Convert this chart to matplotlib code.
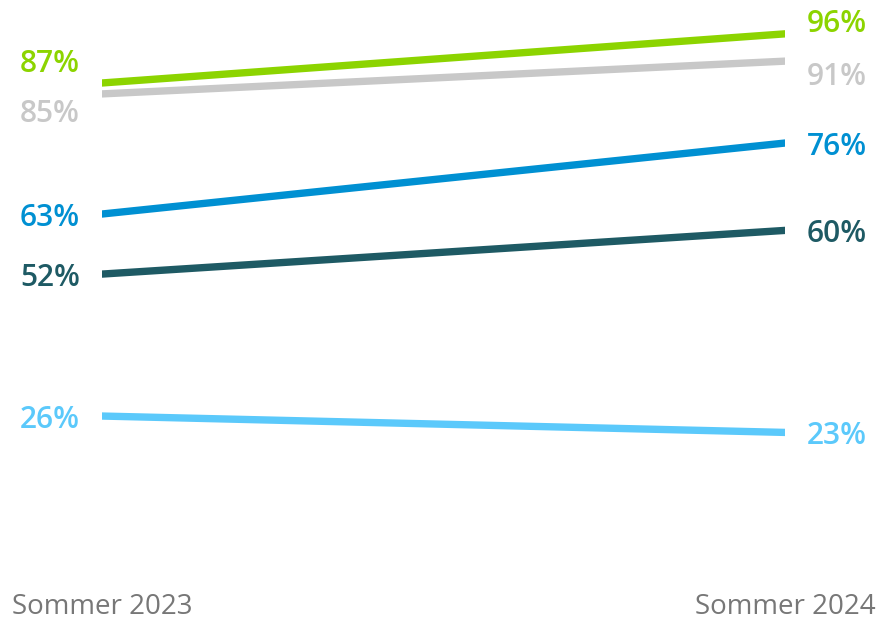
import matplotlib
matplotlib.use("Agg")
from matplotlib import pyplot as plt

periods = ["Sommer 2023", "Sommer 2024"]
start_vals = [87, 85, 63, 52, 26]
end_vals = [96, 91, 76, 60, 23]
colors = ["#8cd400", "#c8c8c8", "#0090d2", "#1e5a64", "#5bc9fb"]
# pixel offsets for value labels so the top two don't collide
start_dy = [22, -17, 0, 0, 0]
end_dy = [13, -12, 0, 0, 0]

plt.rcParams['font.family'] = ['Open Sans', 'DejaVu Sans']

fig = plt.figure(figsize=(8.79, 6.17), dpi=100)
ax = fig.add_axes([102 / 879, 59 / 617, 683 / 879, 546 / 617])
ax.set_xlim(0, 1)
ax.set_ylim(0, 100)
ax.axis('off')

for s, e, c, ds, de in zip(start_vals, end_vals, colors, start_dy, end_dy):
    ax.plot([0, 1], [s, e], color=c, linewidth=5.3, solid_capstyle='round')
    ax.annotate(f"{s}%", (0, s), xytext=(-22, ds), textcoords='offset pixels',
                ha='right', va='center_baseline', fontsize=21.5, color=c,
                fontweight='semibold', annotation_clip=False)
    ax.annotate(f"{e}%", (1, e), xytext=(22, de), textcoords='offset pixels',
                ha='left', va='center_baseline', fontsize=21.5, color=c,
                fontweight='semibold', annotation_clip=False)

fig.text(12 / 879, 1 - 603 / 617, periods[0], ha='left', va='center_baseline',
         fontsize=20, color='#777777')
fig.text(876 / 879, 1 - 603 / 617, periods[1], ha='right', va='center_baseline',
         fontsize=20, color='#777777')

fig.savefig("out.png", dpi=100)
